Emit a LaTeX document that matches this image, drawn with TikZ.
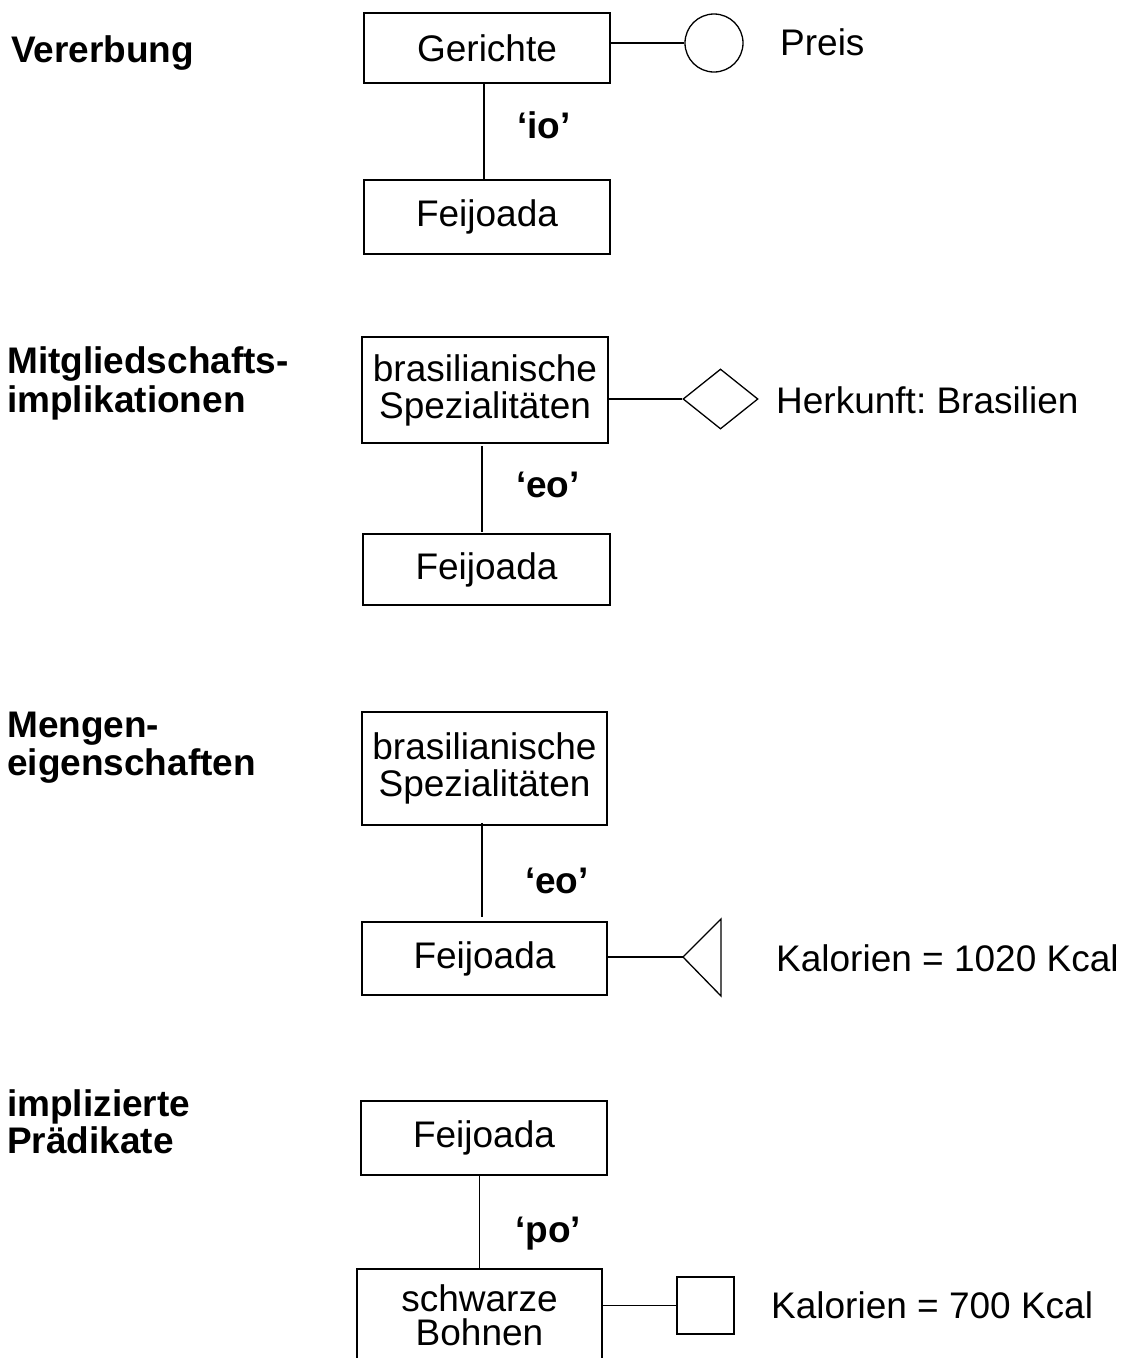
\documentclass[tikz,border=0pt]{standalone}
\usepackage{fontspec}
\setmainfont{Liberation Sans}
\usetikzlibrary{shapes.geometric}
\frenchspacing
\begin{document}
\begin{tikzpicture}[x=1pt,y=-1pt,
  every node/.style={font=\fontsize{37}{37}\selectfont},
  entity/.style={draw, line width=1.5pt, inner sep=0pt, align=center},
  heading/.style={anchor=base west, inner sep=0pt, font=\fontsize{37}{37}\selectfont\bfseries},
  attr/.style={anchor=base west, inner sep=0pt},
  rel/.style={anchor=base, inner sep=0pt, font=\fontsize{37}{37}\selectfont\bfseries},
  link/.style={line width=1.3pt},
  marker/.style={draw, line width=1.3pt, inner sep=0pt}]
\clip (0,0) rectangle (1128,1358);
\fill[white] (0,0) rectangle (1128,1358);

% --- Vererbung ---
\node[heading] (h1) at (11,62) {Vererbung};
\node[entity, minimum width=246pt, minimum height=70pt] (ger) at (487,48) {Gerichte};
\node[entity, minimum width=246pt, minimum height=74pt] (fei1) at (487,217) {Feijoada};
\node[marker, circle, minimum size=58pt] (preis) at (714,43) {};
\node[attr] (preist) at (780,55) {Preis};
\draw[link] (preis.west -| ger.east) -- (preis.west);
\draw[link] ([xshift=-3pt]ger.south) -- ([xshift=-3pt]fei1.north);
\node[rel] (io) at (544,138) {‘io’};

% --- Mitgliedschaftsimplikationen ---
\node[heading] (h2a) at (7,373) {Mitgliedschafts-};
\node[heading] (h2b) at (7,412) {implikationen};
\node[entity, minimum width=246pt, minimum height=106pt] (bras1) at (485,390) {brasilianische\\Spezialitäten};
\node[entity, minimum width=247pt, minimum height=71pt] (fei2) at (486.5,569.5) {Feijoada};
\node[marker, diamond, minimum width=75pt, minimum height=60pt] (herk) at (720.5,399) {};
\node[attr] (herkt) at (776,413) {Herkunft: Brasilien};
\draw[link] (herk.west -| bras1.east) -- (herk.west);
\draw[link] ([shift={(-3pt,-2pt)}]bras1.south) -- ([shift={(-4.5pt,1pt)}]fei2.north);
\node[rel] (eo1) at (548,497) {‘eo’};

% --- Mengeneigenschaften ---
\node[heading] (h3a) at (7,737) {Mengen-};
\node[heading] (h3b) at (7,775) {eigenschaften};
\node[entity, minimum width=245pt, minimum height=113pt] (bras2) at (484.5,768.5) {brasilianische\\Spezialitäten};
\node[entity, minimum width=245pt, minimum height=73pt] (fei3) at (484.5,958.5) {Feijoada};
\coordinate (tri) at (683,957);
\draw[marker] (tri) -- ++(38,-38) -- ++(0,77) -- cycle;
\node[attr] (kal1) at (776,971) {Kalorien = 1020 Kcal};
\draw[link] (tri -| fei3.east) -- (tri);
\draw[link] ([shift={(-2.5pt,3pt)}]bras2.south) -- ([shift={(-2.5pt,4pt)}]fei3.north);
\node[rel] (eo2) at (557,893) {‘eo’};

% --- implizierte Prädikate ---
\node[heading] (h4a) at (7,1116) {implizierte};
\node[heading] (h4b) at (7,1153) {Prädikate};
\node[entity, minimum width=246pt, minimum height=74pt] (fei4) at (484,1138) {Feijoada};
\node[entity, minimum width=245pt, minimum height=130pt] (bohn) at (479.5,1334) {};
\node[anchor=north, inner sep=0pt, align=center, font=\fontsize{37}{34}\selectfont] (bohnt) at (479.5,1284) {schwarze\\Bohnen};
\node[marker, minimum size=57pt] (sq) at (705.5,1305.5) {};
\node[attr] (kal2) at (771,1318) {Kalorien = 700 Kcal};
\draw[link] (sq.west -| bohn.east) -- (sq.west);
\draw[link] (bohn.north |- fei4.south) -- (bohn.north);
\node[rel] (po) at (548,1242) {‘po’};
\end{tikzpicture}
\end{document}
